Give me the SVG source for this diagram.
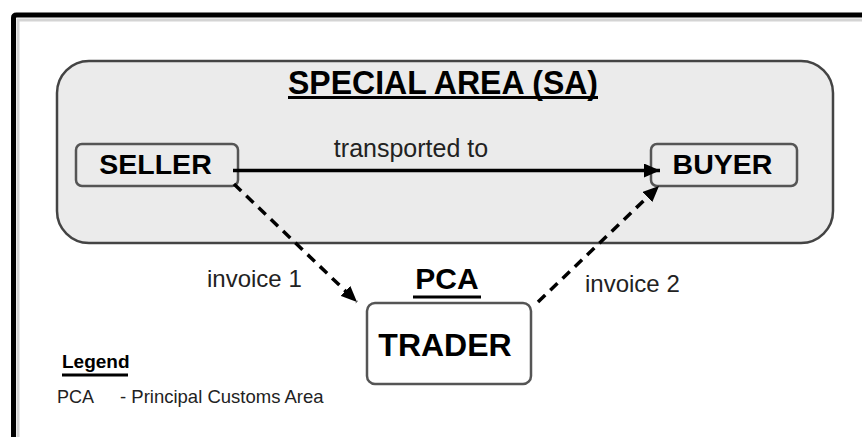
<svg xmlns="http://www.w3.org/2000/svg" width="862" height="437" viewBox="0 0 862 437">
  <style>
    .frame { fill: none; stroke: #000; stroke-width: 5; stroke-linejoin: round; }
    .frame-shadow { fill: none; stroke: #d4d4d4; stroke-width: 3; }
    .area { fill: #ebebeb; stroke: #444; stroke-width: 2.5; }
    .box { fill: #ebebeb; stroke: #555; stroke-width: 2.5; }
    .box-white { fill: #fff; stroke: #555; stroke-width: 2.5; }
    .bold { font-family: "Liberation Sans", Arial, sans-serif; font-weight: bold; fill: #000; }
    .label { font-family: "Liberation Sans", Arial, sans-serif; fill: #222; }
    .solid { fill: none; stroke: #000; stroke-width: 3.5; }
    .dashed { fill: none; stroke: #000; stroke-width: 3.5; stroke-dasharray: 10 7; }
    .uline { stroke: #000; stroke-width: 3; }
  </style>
  <defs>
    <marker id="arrow" markerUnits="userSpaceOnUse" markerWidth="16" markerHeight="14" viewBox="0 0 16 14" refX="16" refY="7" orient="auto">
      <path d="M0,0 L16,7 L0,14 z" fill="#000"/>
    </marker>
  </defs>

  <!-- page frame -->
  <path class="frame-shadow" d="M18,437 L18,20 L862,20"/>
  <path class="frame" d="M13.5,437 L13.5,18 Q13.5,15 16.5,15 L862,15"/>

  <!-- special area -->
  <g id="special-area">
    <rect class="area" x="57" y="61" width="776" height="182" rx="32" ry="32"/>
    <text class="bold" x="443" y="94" font-size="34" text-anchor="middle" textLength="310" lengthAdjust="spacingAndGlyphs">SPECIAL AREA (SA)</text>
    <line class="uline" x1="288" y1="97.5" x2="598" y2="97.5"/>
  </g>

  <g id="seller">
    <rect class="box" x="76" y="144" width="162" height="42" rx="6" ry="6"/>
    <text class="bold" x="155.5" y="174" font-size="28.5" text-anchor="middle">SELLER</text>
  </g>

  <g id="buyer">
    <rect class="box" x="651" y="144" width="146" height="42" rx="6" ry="6"/>
    <text class="bold" x="722.5" y="174" font-size="28.5" text-anchor="middle">BUYER</text>
  </g>

  <g id="trader">
    <text class="bold" x="447" y="289" font-size="30" text-anchor="middle">PCA</text>
    <line class="uline" x1="413" y1="297" x2="481" y2="297"/>
    <rect class="box-white" x="367" y="303" width="164" height="81" rx="8" ry="8"/>
    <text class="bold" x="445" y="356" font-size="32" text-anchor="middle">TRADER</text>
  </g>

  <!-- connectors -->
  <g id="connectors">
    <line class="solid" x1="233" y1="170.5" x2="660" y2="170.5" marker-end="url(#arrow)"/>
    <line class="dashed" x1="234" y1="184" x2="357" y2="302" marker-end="url(#arrow)"/>
    <line class="dashed" x1="538" y1="302" x2="659" y2="186" marker-end="url(#arrow)"/>
    <text class="label" x="411" y="157" font-size="25" text-anchor="middle">transported to</text>
    <text class="label" x="207" y="287" font-size="24">invoice 1</text>
    <text class="label" x="585" y="292" font-size="24">invoice 2</text>
  </g>

  <!-- legend -->
  <g id="legend">
    <text class="bold" x="62" y="368" font-size="19">Legend</text>
    <line class="uline" x1="62" y1="375" x2="128" y2="375" stroke-width="2"/>
    <text class="label" x="57" y="403" font-size="18" fill="#000">PCA</text>
    <text class="label" x="120" y="403" font-size="18.5" fill="#000">- Principal Customs Area</text>
  </g>
</svg>
